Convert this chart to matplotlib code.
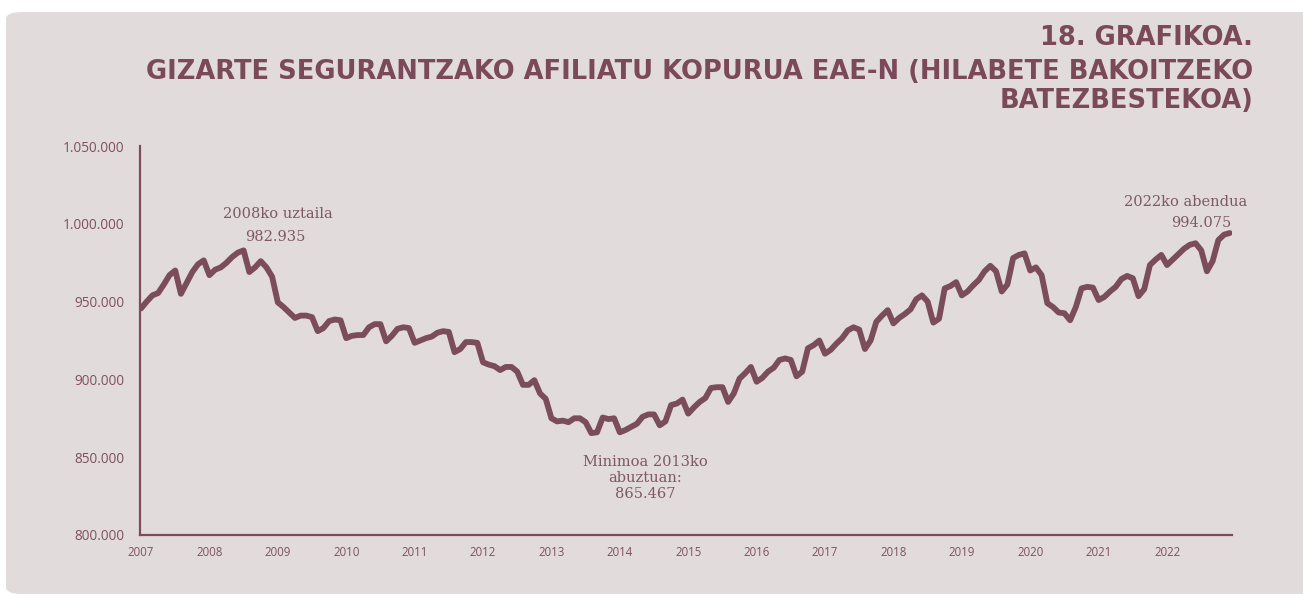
#!/usr/bin/env python3
"""Monthly Social Security affiliates in the Basque Country, 2007-2022."""
import matplotlib
matplotlib.use("Agg")
import matplotlib.pyplot as plt
from matplotlib.patches import FancyBboxPatch
import numpy as np

# monthly averages, thousands
y2007 = [945.6, 950.0, 954.0, 955.5, 961.0, 967.0, 970.0, 955.0, 962.0, 969.0, 974.0, 976.5]
y2008 = [967.0, 970.5, 972.0, 975.0, 978.7, 981.5, 982.935, 969.0, 972.0, 976.0, 972.0, 966.0]
y2009 = [949.5, 946.5, 943.0, 939.5, 941.0, 941.0, 940.0, 931.0, 933.0, 937.5, 938.5, 938.0]
y2010 = [926.5, 928.0, 928.5, 928.5, 933.5, 935.5, 935.5, 924.5, 928.0, 932.5, 933.5, 933.0]
y2011 = [923.5, 925.0, 926.5, 927.5, 930.0, 931.0, 930.5, 917.5, 919.5, 924.0, 924.0, 923.5]
y2012 = [911.0, 909.5, 908.5, 906.0, 908.0, 908.0, 905.0, 896.5, 896.5, 899.5, 891.0, 887.5]
y2013 = [875.0, 873.0, 873.5, 872.5, 875.0, 875.0, 872.5, 865.467, 866.0, 875.5, 874.5, 875.0]
y2014 = [866.0, 867.5, 869.5, 871.5, 876.0, 877.5, 877.5, 870.5, 873.0, 883.5, 884.5, 887.0]
y2015 = [878.0, 882.0, 885.5, 888.0, 894.5, 895.0, 895.0, 885.5, 891.0, 900.5, 904.0, 908.0]
y2016 = [898.5, 901.0, 905.0, 907.5, 912.5, 913.5, 912.5, 902.0, 905.0, 920.0, 922.0, 925.0]
y2017 = [916.5, 919.0, 923.0, 926.5, 931.5, 933.5, 932.0, 919.5, 925.0, 937.0, 941.0, 944.5]
y2018 = [936.0, 939.5, 942.0, 945.0, 951.5, 954.0, 950.0, 936.5, 939.0, 958.5, 960.0, 962.5]
y2019 = [954.0, 956.5, 960.5, 964.0, 969.5, 973.0, 969.5, 956.5, 961.0, 978.0, 980.0, 981.0]
y2020 = [970.0, 972.0, 967.0, 949.0, 946.5, 943.0, 942.5, 938.0, 946.5, 958.5, 959.5, 959.0]
y2021 = [951.0, 953.0, 956.5, 959.5, 964.5, 966.5, 965.0, 953.5, 958.0, 973.5, 977.0, 980.0]
y2022 = [973.5, 977.0, 980.5, 984.0, 986.5, 987.5, 983.0, 969.5, 976.0, 989.5, 993.0, 994.075]

years = list(range(2007, 2023))
yticks = [800000, 850000, 900000, 950000, 1000000, 1050000]
ytick_labels = ["800.000", "850.000", "900.000", "950.000", "1.000.000", "1.050.000"]

title_lines = [
    "18. GRAFIKOA.",
    "GIZARTE SEGURANTZAKO AFILIATU KOPURUA EAE-N (HILABETE BAKOITZEKO",
    "BATEZBESTEKOA)",
]

series = np.array(y2007 + y2008 + y2009 + y2010 + y2011 + y2012 + y2013 + y2014
                  + y2015 + y2016 + y2017 + y2018 + y2019 + y2020 + y2021 + y2022) * 1000
idx = np.arange(len(series))

W, H = 1303, 594
panel = "#e2dbdc"
wine = "#7b4d5b"
label_col = "#80505f"
note_col = "#7f5866"

fig = plt.figure(figsize=(W / 100, H / 100), dpi=100, facecolor="white")
fig.patches.append(FancyBboxPatch((6 / W, 0.0), 1.2, 1 - 12 / H,
                                  boxstyle="round,pad=0,rounding_size=0.012",
                                  transform=fig.transFigure, facecolor=panel,
                                  edgecolor="none", zorder=-5))


def px(x, y):
    return x / W, 1 - y / H


ax = fig.add_axes([140 / W, 1 - 535 / H, (1232 - 140) / W, (535 - 146) / H])
ax.set_zorder(2)
ax.set_facecolor("none")
ax.plot(idx, series, color=wine, linewidth=4.2, solid_capstyle="round", solid_joinstyle="round")

ax.set_xlim(-0.18, 191.4)
ax.set_ylim(800000, 1050000)
ax.set_yticks(yticks)
ax.set_yticklabels(ytick_labels, fontsize=9.8, color=label_col, family="Open Sans")
ax.set_xticks([12 * i for i in range(len(years))])
ax.set_xticklabels([str(y) for y in years], fontsize=8.3, color=label_col, family="Open Sans")
ax.tick_params(axis="both", length=0)
ax.tick_params(axis="y", pad=11)
ax.tick_params(axis="x", pad=8)
for side in ("top", "right"):
    ax.spines[side].set_visible(False)
for side in ("left", "bottom"):
    ax.spines[side].set_color(wine)
    ax.spines[side].set_linewidth(1.6)

# title block, right aligned
tx = 1253
for (ty, line) in zip([38, 72, 101], title_lines):
    fig.text(*px(tx, ty), line, ha="right", va="center", fontsize=18.5,
             fontweight="heavy", color="#7b4a5a", family="DejaVu Sans")

serif = "DejaVu Serif"
fs = 10.5
fig.text(*px(278, 214), "2008ko uztaila", ha="center", va="center", fontsize=fs, color=note_col, family=serif)
fig.text(*px(275, 237), "982.935", ha="center", va="center", fontsize=fs, color=note_col, family=serif)
fig.text(*px(645, 462), "Minimoa 2013ko", ha="center", va="center", fontsize=fs, color=note_col, family=serif)
fig.text(*px(645, 478), "abuztuan:", ha="center", va="center", fontsize=fs, color=note_col, family=serif)
fig.text(*px(645, 494), "865.467", ha="center", va="center", fontsize=fs, color=note_col, family=serif)
fig.text(*px(1186, 202), "2022ko abendua", ha="center", va="center", fontsize=fs, color=note_col, family=serif)
fig.text(*px(1201, 223), "994.075", ha="center", va="center", fontsize=fs, color=note_col, family=serif)

fig.savefig("out.png", dpi=100, facecolor="white")
